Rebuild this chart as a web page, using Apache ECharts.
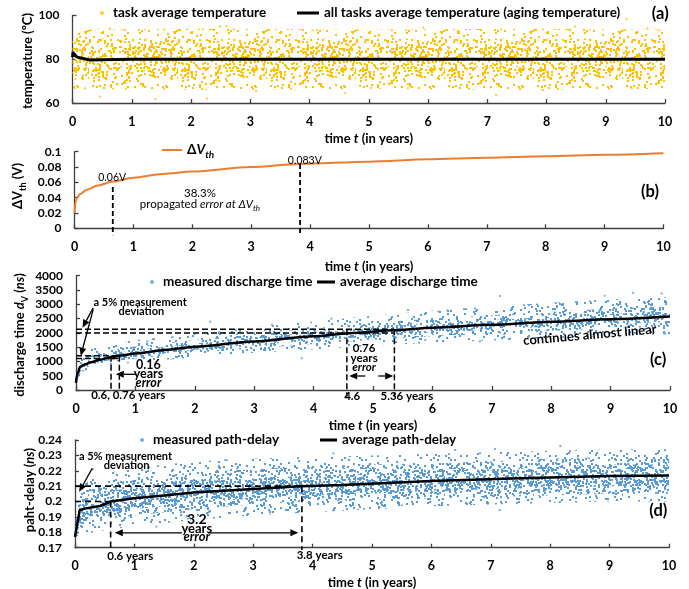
<!DOCTYPE html>
<html>
<head>
<meta charset="utf-8">
<title>aging</title>
<script src="https://cdn.jsdelivr.net/npm/echarts@6/dist/echarts.min.js"></script>
<style>
  html, body { margin: 0; padding: 0; background: #fff; }
  #main { width: 689px; height: 589px; }
</style>
</head>
<body>
<div id="main"></div>
<script>
var FONT = 'Lato, "Noto Sans", sans-serif';

// ---- (a) task temperature ----
var tempLineT = [0, 0.01, 0.02, 0.03, 0.05, 0.1, 0.2, 0.3, 0.5, 1, 2, 4, 6, 8, 10];
var tempLine = [81, 83.5, 81.5, 82.5, 81.5, 80.8, 80.2, 79.7, 79.8, 80, 80, 80, 80, 80, 80];
var tempBandT = [0, 2.5, 5, 7.5, 10];
var tempOuterLo = [66.5, 66, 66.5, 66, 66.5];
var tempOuterHi = [93.5, 94, 93.5, 94, 93.5];
var tempMidLo = [70.5, 70.5, 70.5, 70.5, 70.5];
var tempMidHi = [89.5, 89.5, 89.5, 89.5, 89.5];
var tempCoreLo = [74.5, 74.5, 74.5, 74.5, 74.5];
var tempCoreHi = [86, 86, 86, 86, 86];
var tempOutliers = [[0.05, 71], [0.21, 66.7], [0.46, 62.9], [0.63, 94], [0.9, 66.5], [1.4, 61.8],
  [1.55, 93.5], [2.27, 62], [2.49, 95], [2.6, 95.2], [3.1, 65.5], [4.05, 93.2], [4.6, 64.5],
  [5.66, 66.7], [5.92, 94.5], [6.5, 93], [7.15, 63.6], [7.94, 65.9], [8.48, 95], [9.35, 98.5],
  [9.44, 66.7], [9.7, 94]];

// ---- (b) threshold voltage shift ----
var dvthT = [0, 0.02, 0.05, 0.1, 0.2, 0.4, 0.65, 1, 1.5, 2, 3, 3.83, 5, 6, 7, 8, 9, 10];
var dvth = [0.02, 0.035, 0.041, 0.045, 0.05, 0.056, 0.061, 0.066, 0.071, 0.074, 0.08, 0.084,
  0.087, 0.09, 0.092, 0.094, 0.096, 0.098];

// ---- (c) discharge time ----
var dischT = [0, 0.02, 0.07, 0.15, 0.25, 0.4, 0.6, 0.76, 1, 1.5, 2, 3, 4, 4.6, 5.36, 6, 7, 8, 9, 10];
var dischAvg = [250, 550, 810, 900, 970, 1060, 1150, 1210, 1280, 1400, 1515, 1700, 1880, 1990,
  2090, 2180, 2280, 2390, 2480, 2570];
var dischBandT = [0, 0.1, 0.3, 0.6, 1, 2, 3, 4, 5, 6, 7, 8, 9, 10];
var dischOuterLo = [250, 650, 780, 880, 960, 1150, 1300, 1420, 1550, 1650, 1730, 1820, 1900, 1950];
var dischOuterHi = [350, 1200, 1500, 1600, 1750, 1950, 2200, 2400, 2600, 2780, 2920, 3050, 3180, 3250];
var dischMidLo = [260, 740, 870, 980, 1090, 1300, 1460, 1610, 1760, 1880, 1970, 2070, 2150, 2220];
var dischMidHi = [320, 1000, 1250, 1400, 1520, 1750, 1960, 2160, 2350, 2500, 2620, 2740, 2850, 2930];
var dischCoreLo = [270, 790, 930, 1060, 1180, 1400, 1570, 1740, 1900, 2020, 2120, 2220, 2310, 2390];
var dischCoreHi = [300, 920, 1120, 1280, 1400, 1630, 1830, 2020, 2200, 2340, 2450, 2560, 2660, 2750];
var dischOutliers = [[2.26, 2390], [3.8, 1110], [5.59, 2800], [7.14, 3290], [9.38, 3400],
  [9.86, 3380], [6.1, 2750], [8.9, 3300], [4.3, 2500], [3.3, 2280], [1.2, 1700], [6.8, 1700],
  [8.2, 1850], [5.88, 1750]];

// ---- (d) path delay ----
var delayT = [0, 0.08, 0.2, 0.42, 0.6, 1, 1.5, 2, 3, 3.8, 4.5, 6, 7.5, 9, 10];
var delayAvg = [0.177, 0.1945, 0.1957, 0.1971, 0.2, 0.2021, 0.204, 0.2058, 0.2082, 0.21, 0.2107,
  0.2134, 0.2151, 0.2166, 0.217];
var delayBandT = [0, 0.1, 0.3, 0.6, 1, 2, 3, 4, 5, 6, 7, 8, 9, 10];
var delayOuterLo = [0.171, 0.178, 0.180, 0.182, 0.184, 0.188, 0.191, 0.193, 0.195, 0.197, 0.198, 0.199, 0.200, 0.200];
var delayOuterHi = [0.186, 0.210, 0.215, 0.219, 0.222, 0.226, 0.228, 0.229, 0.230, 0.231, 0.232, 0.233, 0.234, 0.234];
var delayMidLo = [0.173, 0.183, 0.186, 0.189, 0.191, 0.195, 0.198, 0.200, 0.201, 0.202, 0.203, 0.204, 0.205, 0.205];
var delayMidHi = [0.183, 0.204, 0.208, 0.212, 0.214, 0.219, 0.221, 0.223, 0.224, 0.225, 0.226, 0.228, 0.229, 0.229];
var delayCoreLo = [0.175, 0.187, 0.190, 0.193, 0.195, 0.199, 0.202, 0.204, 0.205, 0.207, 0.208, 0.209, 0.210, 0.210];
var delayCoreHi = [0.180, 0.200, 0.203, 0.207, 0.209, 0.213, 0.215, 0.217, 0.218, 0.220, 0.221, 0.223, 0.224, 0.224];
var delayOutliers = [[3.82, 0.2418], [4.35, 0.2313], [1.37, 0.1837], [2.53, 0.227], [9.32, 0.2408],
  [7.15, 0.1945], [7.07, 0.2342], [8.17, 0.236], [5.5, 0.1975], [0.3, 0.221], [1.9, 0.189], [6.4, 0.2335]];

// ---- annotations: [t, value, text, fontSize, extra] ----
var notesA = [[9.92, 100.7, '(a)', 16.5]];
var notesB = [
  [0.64, 0.0657, '0.06V', 10.5, { fontWeight: 'normal' }],
  [3.91, 0.0883, '0.083V', 10.5, { fontWeight: 'normal' }],
  [2.13, 0.046, '38.3%', 11.5, { fontWeight: 'normal' }],
  [2.13, 0.0317, '{n|propagated }{i|error at ΔV}{si|th}', 11.5, { fontWeight: 'normal' }],
  [9.77, 0.0474, '(b)', 16.5]
];
var dashB = [[0.65, 0.054, 0.65, -0.009], [3.83, 0.084, 3.83, -0.009]];

var notesC = [
  [1.08, 3056, 'a 5% measurement', 11], [1.1, 2740, 'deviation', 11],
  [1.22, 875, '0.16', 12.5], [1.22, 550, 'years', 12.5], [1.22, 235, '{i|error}', 12.5],
  [0.88, -200, '0.6, 0.76 years', 11.5],
  [4.85, 1460, '0.76', 11.5], [4.85, 1110, 'years', 11.5], [4.85, 780, '{i|error}', 11.5],
  [4.65, -210, '4.6', 11.5], [5.57, -210, '5.36 years', 11.5],
  [8.65, 1925, 'continues almost linear', 13, { rotate: 5 }],
  [9.8, 1050, '(c)', 16.5]
];
var arrowsC = [[0.29, 2880, 0.11, 2180], [0.29, 2820, 0.08, 1200], [1.01, 550, 0.67, 550],
  [4.87, 490, 4.6, 490], [5.09, 490, 5.34, 490]];
var dashC = [[0, 2130, 5.36, 2130], [0, 1995, 5.36, 1995], [0, 1200, 0.73, 1200], [0, 1100, 0.73, 1100],
  [0.59, 1200, 0.59, -30], [0.73, 1200, 0.73, -30], [4.56, 2130, 4.56, -235], [5.36, 2130, 5.36, -235]];

var notesD = [
  [0.85, 0.2296, 'a 5% measurement', 11], [0.87, 0.2236, 'deviation', 11],
  [2.05, 0.1885, '3.2', 14], [2.05, 0.1826, 'years', 13], [2.05, 0.1768, '{i|error}', 13],
  [0.93, 0.1641, '0.6 years', 11.5], [4.12, 0.1653, '3.8 years', 11.5],
  [9.82, 0.1942, '(d)', 16.5]
];
var arrowsD = [[0.29, 0.2216, 0.07, 0.2064], [1.8, 0.1797, 0.67, 0.1797], [2.24, 0.1797, 3.76, 0.1797]];
var dashD = [[0, 0.21, 3.82, 0.21], [0, 0.2, 0.6, 0.2], [0.6, 0.2, 0.6, 0.1685], [3.82, 0.21, 3.82, 0.1685]];

var ORANGE_DOT = '#FFC000', BLUE_DOT = '#5B9BD5', ORANGE_LINE = '#ED7D31';
var AXIS_COLOR = '#404040';

function zip(t, v) { return t.map(function (x, i) { return [x, v[i]]; }); }

function mkRich(size, weight) {
  var base = { fontFamily: FONT, fontSize: size, fontWeight: weight, color: '#000', lineHeight: size + 6 };
  var sub = Math.round(size * 0.72);
  return {
    n: Object.assign({}, base),
    i: Object.assign({}, base, { fontStyle: 'italic' }),
    s: Object.assign({}, base, { fontSize: sub, lineHeight: sub, verticalAlign: 'bottom' }),
    si: Object.assign({}, base, { fontSize: sub, lineHeight: sub, verticalAlign: 'bottom', fontStyle: 'italic' })
  };
}

// texture tile standing in for the thousands of measured points
function mix(a, b) {
  var h = Math.imul(a + 1, 0x9E3779B1) ^ Math.imul(b + 7, 0x85EBCA77);
  h ^= h >>> 15; h = Math.imul(h, 0x2C1B3C6D);
  h ^= h >>> 12; h = Math.imul(h, 0x297A2D39);
  h ^= h >>> 15;
  return h >>> 0;
}
function dotTile(color, n, salt) {
  var w = 89, h = 67;
  var c = document.createElement('canvas');
  c.width = w; c.height = h;
  var g = c.getContext('2d');
  g.fillStyle = color;
  for (var i = 0; i < n; i++) {
    g.fillRect(mix(i, salt) % w, mix(i, salt + 101) % h, 2, 2);
  }
  return { image: c, repeat: 'repeat' };
}

function band(k, t, lo, hi, fill) {
  return {
    type: 'custom', xAxisIndex: k, yAxisIndex: k, silent: true, z: 1, clip: true,
    data: [[t[0], lo[0]]],
    renderItem: function (params, api) {
      var pts = [];
      for (var i = 0; i < t.length; i++) pts.push(api.coord([t[i], hi[i]]));
      for (var j = t.length - 1; j >= 0; j--) pts.push(api.coord([t[j], lo[j]]));
      return { type: 'polygon', shape: { points: pts }, style: { fill: fill } };
    }
  };
}

function dashes(k, list, width, dash) {
  return list.map(function (s) {
    return {
      type: 'line', xAxisIndex: k, yAxisIndex: k, silent: true, clip: false, symbol: 'none', z: 4,
      data: [[s[0], s[1]], [s[2], s[3]]],
      lineStyle: { color: '#000', width: width, type: dash }
    };
  });
}

function notes(k, list) {
  return {
    type: 'custom', xAxisIndex: k, yAxisIndex: k, silent: true, clip: false, z: 6,
    data: list.map(function (n) { return [n[0], n[1]]; }),
    renderItem: function (params, api) {
      var n = list[params.dataIndex];
      var p = api.coord([n[0], n[1]]);
      var ex = n[4] || {};
      var weight = ex.fontWeight || 'bold';
      return {
        type: 'text', x: p[0], y: p[1], rotation: (ex.rotate || 0) * Math.PI / 180,
        style: {
          text: n[2], fill: '#000', fontFamily: FONT, fontSize: n[3], fontWeight: weight,
          align: 'center', verticalAlign: 'middle', lineHeight: n[3] + 6, rich: mkRich(n[3], weight)
        }
      };
    }
  };
}

function arrows(k, list) {
  return {
    type: 'custom', xAxisIndex: k, yAxisIndex: k, silent: true, clip: false, z: 6,
    data: list.map(function (a) { return [a[0], a[1]]; }),
    renderItem: function (params, api) {
      var a = list[params.dataIndex];
      var p0 = api.coord([a[0], a[1]]), p1 = api.coord([a[2], a[3]]);
      var dx = p1[0] - p0[0], dy = p1[1] - p0[1];
      var len = Math.sqrt(dx * dx + dy * dy), ux = dx / len, uy = dy / len;
      var L = 8, W = 3.5;
      var bx = p1[0] - ux * L, by = p1[1] - uy * L;
      return {
        type: 'group', children: [
          { type: 'line', shape: { x1: p0[0], y1: p0[1], x2: bx, y2: by }, style: { stroke: '#000', lineWidth: 1.3 } },
          { type: 'polygon', shape: { points: [[p1[0], p1[1]], [bx - uy * W, by + ux * W], [bx + uy * W, by - ux * W]] }, style: { fill: '#000' } }
        ]
      };
    }
  };
}

function xAx(k, gap) {
  return {
    type: 'value', gridIndex: k, min: 0, max: 10, interval: 1,
    axisLine: { show: true, lineStyle: { color: AXIS_COLOR, width: 1.3 } },
    axisTick: { show: true, inside: true, length: 4, lineStyle: { color: AXIS_COLOR, width: 1.3 } },
    splitLine: { show: false },
    axisLabel: { color: '#000', fontFamily: FONT, fontWeight: 'bold', fontSize: 12.5, margin: 12 },
    name: 'time {i|t} (in years)', nameLocation: 'middle', nameGap: gap,
    nameTextStyle: { color: '#000', fontFamily: FONT, fontWeight: 'bold', fontSize: 13, lineHeight: 19, rich: mkRich(13, 'bold') }
  };
}

function yAx(k, min, max, interval, fmt) {
  return {
    type: 'value', gridIndex: k, min: min, max: max, interval: interval,
    axisLine: { show: true, lineStyle: { color: AXIS_COLOR, width: 1.3 } },
    axisTick: { show: true, inside: true, length: 4, lineStyle: { color: AXIS_COLOR, width: 1.3 } },
    splitLine: { show: false },
    axisLabel: { color: '#000', fontFamily: FONT, fontWeight: 'bold', fontSize: 12, margin: 13, formatter: fmt }
  };
}

function yTitle(x, y, text) {
  return {
    type: 'text', x: x, y: y, rotation: Math.PI / 2, silent: true,
    style: {
      text: text, fill: '#000', fontFamily: FONT, fontSize: 13, fontWeight: 'bold',
      align: 'center', verticalAlign: 'middle', lineHeight: 19, rich: mkRich(13, 'bold')
    }
  };
}

function legend(name, left, top, w, h, icon, extra) {
  return Object.assign({
    data: [{ name: name, icon: icon }], left: left, top: top, itemWidth: w, itemHeight: h,
    selectedMode: false, padding: 0,
    textStyle: { color: '#000', fontFamily: FONT, fontWeight: 'bold', fontSize: 13.5, rich: mkRich(13.5, 'bold') }
  }, extra || {});
}
var DOT_TEXT = { textStyle: { color: '#000', fontFamily: FONT, fontWeight: 'bold', fontSize: 13.5, padding: [0, 0, 0, 4] } };

var tileA = [dotTile(ORANGE_DOT, 230, 1), dotTile(ORANGE_DOT, 200, 2), dotTile(ORANGE_DOT, 170, 3)];
var tileB = [dotTile(BLUE_DOT, 200, 4), dotTile(BLUE_DOT, 300, 5), dotTile(BLUE_DOT, 440, 6)];

var series = [
  // (a)
  band(0, tempBandT, tempOuterLo, tempOuterHi, tileA[0]),
  band(0, tempBandT, tempMidLo, tempMidHi, tileA[1]),
  band(0, tempBandT, tempCoreLo, tempCoreHi, tileA[2]),
  { name: 'task average temperature', type: 'scatter', xAxisIndex: 0, yAxisIndex: 0, silent: true, z: 2,
    symbol: 'rect', symbolSize: 2, itemStyle: { color: ORANGE_DOT }, data: tempOutliers },
  { name: 'all tasks average temperature (aging temperature)', type: 'line', xAxisIndex: 0, yAxisIndex: 0,
    silent: true, z: 3, showSymbol: false, symbol: 'none', lineStyle: { color: '#000', width: 3 },
    itemStyle: { color: '#000' }, data: zip(tempLineT, tempLine) },
  notes(0, notesA),
  // (b)
  { name: 'ΔVth', type: 'line', xAxisIndex: 1, yAxisIndex: 1, silent: true, z: 3, showSymbol: false,
    symbol: 'none', smooth: 0.3, smoothMonotone: 'x', lineStyle: { color: ORANGE_LINE, width: 2 },
    itemStyle: { color: ORANGE_LINE }, data: zip(dvthT, dvth) },
  notes(1, notesB)
].concat(dashes(1, dashB, 1.8, [5, 3]), [
  // (c)
  band(2, dischBandT, dischOuterLo, dischOuterHi, tileB[0]),
  band(2, dischBandT, dischMidLo, dischMidHi, tileB[1]),
  band(2, dischBandT, dischCoreLo, dischCoreHi, tileB[2]),
  { name: 'measured discharge time', type: 'scatter', xAxisIndex: 2, yAxisIndex: 2, silent: true, z: 2,
    symbol: 'rect', symbolSize: 2, itemStyle: { color: BLUE_DOT }, data: dischOutliers },
  { name: 'average discharge time', type: 'line', xAxisIndex: 2, yAxisIndex: 2, silent: true, z: 3,
    showSymbol: false, symbol: 'none', smooth: 0.3, smoothMonotone: 'x',
    lineStyle: { color: '#000', width: 2.5 }, itemStyle: { color: '#000' }, data: zip(dischT, dischAvg) },
  notes(2, notesC),
  arrows(2, arrowsC)
], dashes(2, dashC, 1.5, [6, 3]), [
  // (d)
  band(3, delayBandT, delayOuterLo, delayOuterHi, tileB[0]),
  band(3, delayBandT, delayMidLo, delayMidHi, tileB[1]),
  band(3, delayBandT, delayCoreLo, delayCoreHi, tileB[2]),
  { name: 'measured path-delay', type: 'scatter', xAxisIndex: 3, yAxisIndex: 3, silent: true, z: 2,
    symbol: 'rect', symbolSize: 2, itemStyle: { color: BLUE_DOT }, data: delayOutliers },
  { name: 'average path-delay', type: 'line', xAxisIndex: 3, yAxisIndex: 3, silent: true, z: 3,
    showSymbol: false, symbol: 'none', lineStyle: { color: '#000', width: 2.5 },
    itemStyle: { color: '#000' }, data: zip(delayT, delayAvg) },
  notes(3, notesD),
  arrows(3, arrowsD)
], dashes(3, dashD, 1.6, [6, 4]));

var chart = echarts.init(document.getElementById('main'), null, { renderer: 'canvas' });
chart.setOption({
  animation: false,
  backgroundColor: '#fff',
  textStyle: { fontFamily: FONT },
  grid: [
    { left: 72.5, top: 15.5, width: 592.5, height: 87.5, outerBoundsMode: 'none' },
    { left: 74.5, top: 151.7, width: 589, height: 76.6, outerBoundsMode: 'none' },
    { left: 76, top: 275.7, width: 594, height: 114.3, outerBoundsMode: 'none' },
    { left: 75, top: 440, width: 594, height: 107.7, outerBoundsMode: 'none' }
  ],
  xAxis: [xAx(0, 24), xAx(1, 29), xAx(2, 26), xAx(3, 24)],
  yAxis: [
    yAx(0, 60, 100, 20),
    yAx(1, 0, 0.1, 0.02),
    yAx(2, 0, 4000, 500, function (v) { return String(v); }),
    yAx(3, 0.17, 0.24, 0.01)
  ],
  graphic: [
    yTitle(28, 61, 'temperature (ºC)'),
    yTitle(18, 186, '{n|ΔV}{s|th}{n| (V)}'),
    yTitle(20, 335, 'discharge time {i|d}{s|V} ({i|ns})'),
    yTitle(30, 490, 'paht-delay ({i|ns})')
  ],
  legend: [
    legend('task average temperature', 100, 6, 4, 4, 'circle', DOT_TEXT),
    legend('all tasks average temperature (aging temperature)', 297, 6, 22, 3, 'rect'),
    legend('ΔVth', 162, 143, 20, 2, 'rect', { formatter: function () { return '{n|Δ}{i|V}{si|th}'; } }),
    legend('measured discharge time', 150, 275, 4, 4, 'circle', DOT_TEXT),
    legend('average discharge time', 317, 275, 18, 3, 'rect'),
    legend('measured path-delay', 140, 433, 4, 4, 'circle', DOT_TEXT),
    legend('average path-delay', 320, 433, 17, 3, 'rect')
  ],
  series: series
});
</script>
</body>
</html>
